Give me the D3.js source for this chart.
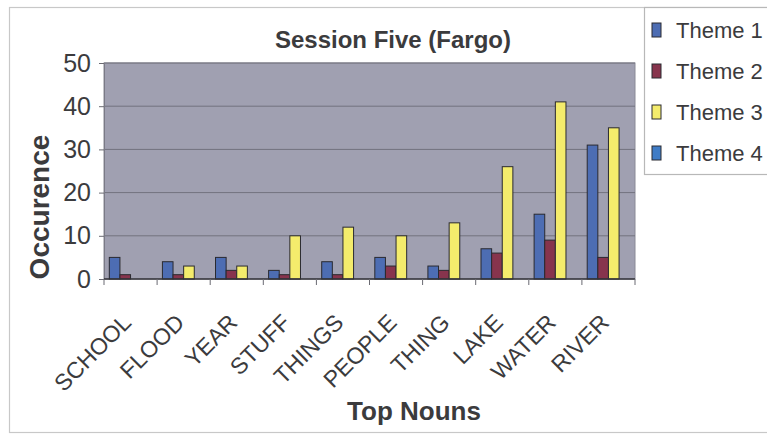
<!DOCTYPE html>
<html>
<head>
<meta charset="utf-8">
<script src="https://cdn.jsdelivr.net/npm/d3@7"></script>
<style>
  html, body { margin: 0; padding: 0; background: #ffffff; }
  svg { display: block; }
  text { font-family: "Liberation Sans", Arial, Helvetica, sans-serif; fill: #3b3b3d; }
</style>
</head>
<body>
<svg id="chart" width="767" height="435"></svg>
<script>
// Top nouns from session five and how often each theme used them
const nouns = ["SCHOOL", "FLOOD", "YEAR", "STUFF", "THINGS", "PEOPLE", "THING", "LAKE", "WATER", "RIVER"];
const themes = ["Theme 1", "Theme 2", "Theme 3", "Theme 4"];
const theme1 = [5, 4, 5, 2, 4, 5, 3, 7, 15, 31];
const theme2 = [1, 1, 2, 1, 1, 3, 2, 6, 9, 5];
const theme3 = [0, 3, 3, 10, 12, 10, 13, 26, 41, 35];
const theme4 = [0, 0, 0, 0, 0, 0, 0, 0, 0, 0];
const yTicks = [0, 10, 20, 30, 40, 50];
const themeColors = ["#4d6db3", "#87344d", "#f4ec6c", "#3f7cc6"];

const seriesValues = [theme1, theme2, theme3, theme4];
const rows = nouns.map((n, i) => ({
  noun: n,
  values: themes.map((t, k) => ({ theme: t, value: seriesValues[k][i], k }))
}));

const svg = d3.select("#chart");

// outer chart frame
svg.append("rect")
  .attr("x", 9.5).attr("y", 7.5)
  .attr("width", 800).attr("height", 425)
  .attr("fill", "#ffffff").attr("stroke", "#c8c8c8").attr("stroke-width", 1.2);

const plot = { left: 104, right: 635, top: 63, bottom: 279 };

const x = d3.scaleBand().domain(nouns).range([plot.left, plot.right]).paddingInner(0).paddingOuter(0);
const xInner = d3.scaleBand().domain(themes).range([0, x.bandwidth()]).paddingOuter(0.5).paddingInner(0);
const y = d3.scaleLinear().domain([0, 50]).range([plot.bottom, plot.top]);

// plot area background
svg.append("rect")
  .attr("x", plot.left).attr("y", plot.top)
  .attr("width", plot.right - plot.left).attr("height", plot.bottom - plot.top)
  .attr("fill", "#a0a0b1").attr("stroke", "#8a8a96").attr("stroke-width", 1);

// horizontal gridlines
svg.append("g")
  .selectAll("line")
  .data(yTicks.filter(v => v > 0))
  .join("line")
  .attr("x1", plot.left).attr("x2", plot.right)
  .attr("y1", d => y(d)).attr("y2", d => y(d))
  .attr("stroke", "#72727e").attr("stroke-width", 1);

// bars
const groups = svg.append("g")
  .selectAll("g")
  .data(rows)
  .join("g")
  .attr("transform", d => `translate(${x(d.noun)},0)`);

groups.selectAll("rect")
  .data(d => d.values.filter(v => v.value > 0))
  .join("rect")
  .attr("x", d => xInner(d.theme))
  .attr("y", d => y(d.value))
  .attr("width", xInner.bandwidth())
  .attr("height", d => y(0) - y(d.value))
  .attr("fill", d => themeColors[d.k])
  .attr("stroke", "#2a2a30").attr("stroke-width", 1);

// y axis
const yAxis = svg.append("g")
  .attr("transform", `translate(${plot.left},0)`)
  .call(d3.axisLeft(y).tickValues(yTicks).tickSize(5).tickPadding(8));
yAxis.select(".domain").attr("stroke", "#7a7a86");
yAxis.selectAll(".tick line").attr("stroke", "#6a6a72");
yAxis.selectAll(".tick text")
  .attr("font-size", 25).attr("fill", "#3b3b3d")
  .style("font-family", "\"Liberation Sans\", Arial, sans-serif");

// x axis: ticks at category boundaries
const xAxisG = svg.append("g").attr("transform", `translate(0,${plot.bottom})`);
xAxisG.append("line")
  .attr("x1", plot.left).attr("x2", plot.right)
  .attr("y1", 0).attr("y2", 0)
  .attr("stroke", "#333338").attr("stroke-width", 1.5);
xAxisG.selectAll("line.tick")
  .data(nouns.map(n => x(n)).concat([plot.right]))
  .join("line")
  .attr("class", "tick")
  .attr("x1", d => d).attr("x2", d => d)
  .attr("y1", 0).attr("y2", 6)
  .attr("stroke", "#6a6a72");

xAxisG.selectAll("text")
  .data(nouns)
  .join("text")
  .attr("transform", d => `translate(${x(d) + x.bandwidth() / 2 + 2},${45}) rotate(-45)`)
  .attr("text-anchor", "end")
  .attr("font-size", 23)
  .text(d => d);

// title
svg.append("text")
  .attr("x", 393).attr("y", 48)
  .attr("text-anchor", "middle")
  .attr("font-size", 24).attr("font-weight", "bold")
  .text("Session Five (Fargo)");

// axis titles
svg.append("text")
  .attr("transform", "translate(49,207) rotate(-90)")
  .attr("text-anchor", "middle")
  .attr("font-size", 28).attr("font-weight", "bold")
  .text("Occurence");

svg.append("text")
  .attr("x", 414).attr("y", 420)
  .attr("text-anchor", "middle")
  .attr("font-size", 26).attr("font-weight", "bold")
  .text("Top Nouns");

// legend
const legend = svg.append("g");
legend.append("rect")
  .attr("x", 644.5).attr("y", 7.5)
  .attr("width", 200).attr("height", 167)
  .attr("fill", "#ffffff").attr("stroke", "#b8b8b8").attr("stroke-width", 1.2);

const items = legend.selectAll("g.item")
  .data(themes)
  .join("g")
  .attr("class", "item")
  .attr("transform", (d, i) => `translate(652,${30 + i * 41})`);
items.append("rect")
  .attr("x", 0).attr("y", -7)
  .attr("width", 9).attr("height", 14)
  .attr("fill", (d, i) => themeColors[i])
  .attr("stroke", "#2a2a30").attr("stroke-width", 1);
items.append("text")
  .attr("x", 24).attr("y", 8)
  .attr("font-size", 22)
  .text(d => d);
</script>
</body>
</html>
